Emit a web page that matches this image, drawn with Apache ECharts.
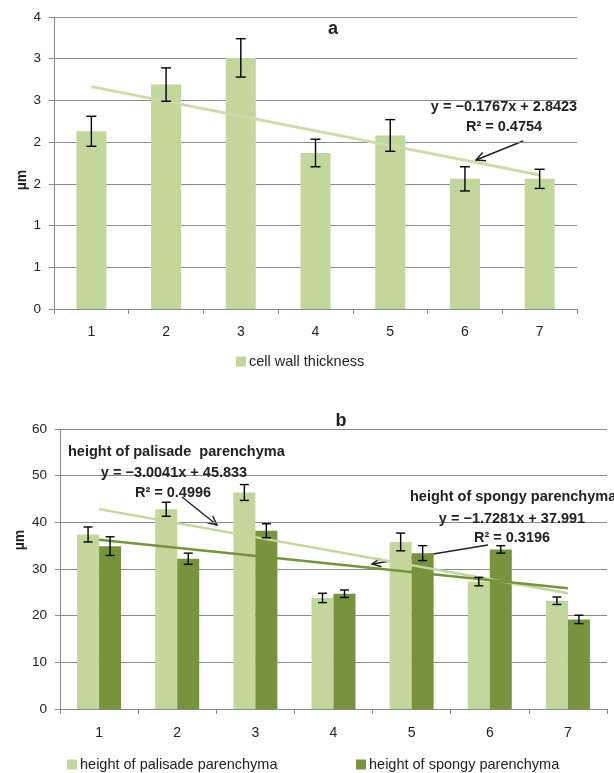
<!DOCTYPE html>
<html>
<head>
<meta charset="utf-8">
<script src="https://cdn.jsdelivr.net/npm/echarts@6/dist/echarts.min.js"></script>
<style>
  html, body { margin: 0; padding: 0; background: #fff; }
  #chart { width: 614px; height: 773px; }
</style>
</head>
<body>
<div id="chart"></div>
<script>
// ---- data ----
const categories = ['1', '2', '3', '4', '5', '6', '7'];

// panel a: cell wall thickness (µm) with standard errors
const wallThickness = [2.13, 2.69, 3.01, 1.87, 2.08, 1.56, 1.56];
const wallThicknessErr = [0.18, 0.20, 0.23, 0.165, 0.19, 0.145, 0.115];
const wallTickLabels = ['0', '1', '1', '2', '2', '3', '3', '4'];
const wallTrend = { slope: -0.1767, intercept: 2.8423, r2: '0.4754' };

// panel b: palisade and spongy parenchyma heights (µm) with standard errors
const palisadeHeight = [37.4, 42.8, 46.4, 23.8, 35.8, 27.3, 23.2];
const palisadeErr = [1.6, 1.5, 1.7, 1.0, 1.9, 0.9, 0.8];
const spongyHeight = [34.9, 32.2, 38.2, 24.7, 33.4, 34.2, 19.2];
const spongyErr = [2.0, 1.2, 1.5, 0.8, 1.6, 0.8, 0.9];
const heightTickLabels = ['0', '10', '20', '30', '40', '50', '60'];
const palisadeTrend = { slope: -3.0041, intercept: 45.833, r2: '0.4996' };
const spongyTrend = { slope: -1.7281, intercept: 37.991, r2: '0.3196' };

// ---- styling ----
const FONT = '"Liberation Sans", Arial, sans-serif';
const LIGHT = '#c3d69b';
const DARK = '#77933c';
const AXIS_C = '#8a8a8a';
const TEXT_C = '#222';

const chart = echarts.init(document.getElementById('chart'), null, { renderer: 'canvas' });

// Trendline endpoints at x = 1 and x = n, from the fitted equation
function trendEnds(t, n) {
  return [[0, t.intercept + t.slope * 1], [n - 1, t.intercept + t.slope * n]];
}

function equationText(t) {
  const sign = t.intercept >= 0 ? '+' : '−';
  const s = t.slope < 0 ? '−' + Math.abs(t.slope) : String(t.slope);
  return 'y = ' + s + 'x ' + sign + ' ' + Math.abs(t.intercept);
}

// I-beam error bars drawn over the bars
function errorBars(gridIdx, values, errs, offsetPx, capHalf) {
  return {
    type: 'custom',
    xAxisIndex: gridIdx,
    yAxisIndex: gridIdx,
    z: 10,
    silent: true,
    encode: { x: 0, y: [1, 2] },
    data: values.map((v, i) => [i, v - errs[i], v + errs[i]]),
    renderItem(params, api) {
      const lo = api.coord([api.value(0), api.value(1)]);
      const hi = api.coord([api.value(0), api.value(2)]);
      const x = lo[0] + offsetPx;
      const st = { stroke: '#000', lineWidth: 1.4 };
      return {
        type: 'group',
        children: [
          { type: 'line', shape: { x1: x, y1: hi[1], x2: x, y2: lo[1] }, style: st },
          { type: 'line', shape: { x1: x - capHalf, y1: hi[1], x2: x + capHalf, y2: hi[1] }, style: st },
          { type: 'line', shape: { x1: x - capHalf, y1: lo[1], x2: x + capHalf, y2: lo[1] }, style: st }
        ]
      };
    }
  };
}

function arrow(x1, y1, x2, y2) {
  const ang = Math.atan2(y2 - y1, x2 - x1);
  const L = 10, w = 0.45;
  const p1 = [x2 - L * Math.cos(ang - w), y2 - L * Math.sin(ang - w)];
  const p2 = [x2 - L * Math.cos(ang + w), y2 - L * Math.sin(ang + w)];
  return {
    type: 'group',
    children: [
      { type: 'line', shape: { x1, y1, x2, y2 }, style: { stroke: '#222', lineWidth: 1.5 } },
      { type: 'polyline', shape: { points: [p1, [x2, y2], p2] }, style: { stroke: '#222', lineWidth: 1.5, fill: null } }
    ]
  };
}

function label(text, x, y, align, opts) {
  return {
    type: 'text', x, y, z: 20,
    style: Object.assign({
      text, align: align || 'center', verticalAlign: 'middle',
      font: 'bold 14.5px ' + FONT, fill: TEXT_C
    }, opts || {})
  };
}

function axisName(x, y) {
  const g = label('µm', x, y, 'center', { font: 'bold 14px ' + FONT });
  g.rotation = Math.PI / 2;
  return g;
}

const catAxis = (gridIndex, fontSize, margin) => ({
  type: 'category',
  gridIndex,
  data: categories,
  boundaryGap: true,
  axisLine: { lineStyle: { color: AXIS_C, width: 1 } },
  axisTick: { show: true, alignWithLabel: false, length: 5, lineStyle: { color: AXIS_C } },
  axisLabel: { color: TEXT_C, fontSize, fontFamily: FONT, margin },
  splitLine: { show: false }
});

const valAxis = (gridIndex, max, interval, labels, fontSize) => ({
  type: 'value',
  gridIndex,
  min: 0, max, interval,
  axisLine: { show: true, lineStyle: { color: AXIS_C, width: 1 } },
  axisTick: { show: true, length: 5, lineStyle: { color: AXIS_C } },
  axisLabel: {
    color: TEXT_C, fontSize, fontFamily: FONT, margin: 13,
    formatter: v => labels[Math.round(v / interval)]
  },
  splitLine: { show: true, lineStyle: { color: AXIS_C, width: 1 } }
});

const legendBase = {
  orient: 'horizontal',
  icon: 'rect',
  itemWidth: 10,
  itemHeight: 10,
  itemGap: 4,
  padding: 0,
  textStyle: { color: TEXT_C, fontSize: 14.5, fontFamily: FONT, padding: [0, 0, 0, -2] },
  selectedMode: false
};

const option = {
  animation: false,
  backgroundColor: '#fff',
  textStyle: { fontFamily: FONT },
  grid: [
    { left: 54, top: 17, width: 523, height: 292 },
    { left: 60, top: 429, width: 547, height: 280 }
  ],
  xAxis: [catAxis(0, 14, 16), catAxis(1, 14, 17)],
  yAxis: [
    valAxis(0, 3.5, 0.5, wallTickLabels, 13.5),
    valAxis(1, 60, 10, heightTickLabels, 13.5)
  ],
  legend: [
    Object.assign({}, legendBase, { left: 236, top: 354, data: ['cell wall thickness'] }),
    Object.assign({}, legendBase, { left: 67, top: 757, data: ['height of palisade parenchyma'] }),
    Object.assign({}, legendBase, { left: 356, top: 757, data: ['height of spongy parenchyma'] })
  ],
  series: [
    {
      name: 'cell wall thickness', type: 'bar', xAxisIndex: 0, yAxisIndex: 0,
      data: wallThickness, barWidth: 30, itemStyle: { color: LIGHT }
    },
    errorBars(0, wallThickness, wallThicknessErr, 0, 5),
    {
      name: 'cell wall trend', type: 'line', xAxisIndex: 0, yAxisIndex: 0,
      data: trendEnds(wallTrend, categories.length), symbol: 'none', z: 5,
      lineStyle: { color: '#cddcaa', width: 3 }
    },
    {
      name: 'height of palisade parenchyma', type: 'bar', xAxisIndex: 1, yAxisIndex: 1,
      data: palisadeHeight, barWidth: 22, barGap: '0%', itemStyle: { color: LIGHT }
    },
    {
      name: 'height of spongy parenchyma', type: 'bar', xAxisIndex: 1, yAxisIndex: 1,
      data: spongyHeight, barWidth: 22, barGap: '0%', itemStyle: { color: DARK }
    },
    errorBars(1, palisadeHeight, palisadeErr, -11, 4.5),
    errorBars(1, spongyHeight, spongyErr, 11, 4.5),
    {
      name: 'palisade trend', type: 'line', xAxisIndex: 1, yAxisIndex: 1,
      data: trendEnds(palisadeTrend, categories.length), symbol: 'none', z: 5,
      lineStyle: { color: LIGHT, width: 2.5 }
    },
    {
      name: 'spongy trend', type: 'line', xAxisIndex: 1, yAxisIndex: 1,
      data: trendEnds(spongyTrend, categories.length), symbol: 'none', z: 5,
      lineStyle: { color: DARK, width: 2.5 }
    }
  ],
  graphic: [
    // panel titles
    label('a', 333, 29, 'center', { font: 'bold 18px ' + FONT }),
    label('b', 341, 421, 'center', { font: 'bold 18px ' + FONT }),
    // axis names
    axisName(22, 180),
    axisName(20, 540),
    // trend equations, panel a
    label(equationText(wallTrend), 504, 107),
    label('R² = ' + wallTrend.r2, 504, 127),
    arrow(523, 141, 476, 160),
    // trend equations, panel b
    label('height of palisade  parenchyma', 68, 452, 'left'),
    label(equationText(palisadeTrend), 174, 473),
    label('R² = ' + palisadeTrend.r2, 173, 493),
    arrow(182, 497, 217, 525),
    label('height of spongy parenchyma', 410, 497, 'left'),
    label(equationText(spongyTrend), 512, 519),
    label('R² = ' + spongyTrend.r2, 512, 538),
    arrow(488, 545, 372, 564)
  ]
};

chart.setOption(option);
</script>
</body>
</html>
